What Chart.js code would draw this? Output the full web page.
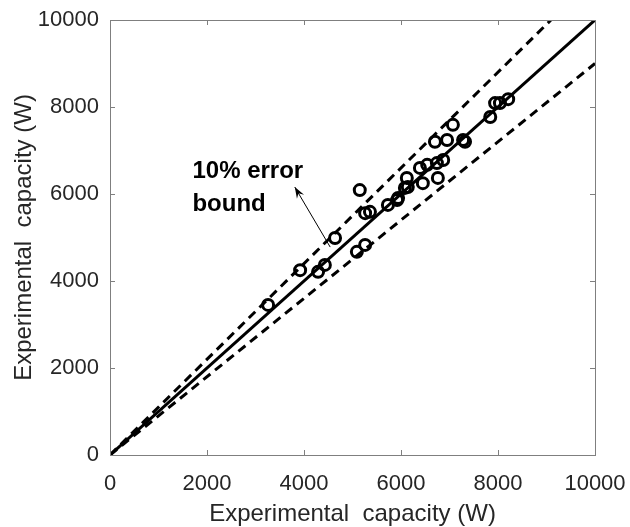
<!DOCTYPE html>
<html>
<head>
<meta charset="utf-8">
<script src="https://cdn.jsdelivr.net/npm/chart.js@4.4.1/dist/chart.umd.min.js"></script>
<style>
  html, body { margin: 0; padding: 0; background: #ffffff; }
  #wrap { width: 630px; height: 527px; }
</style>
</head>
<body>
<div id="wrap"><canvas id="grafico" width="630" height="527"></canvas></div>
<script>
// Dados (W)
const expX = [3260, 3920, 4290, 4430, 4640, 5090, 5260, 5150, 5260, 5360, 5730, 5920, 5940,
              6080, 6140, 6120, 6450, 6760, 6390, 6540, 6740, 6870, 6700, 6950, 7280, 7320,
              7070, 7840, 7940, 8040, 8210];
const expY = [3450, 4250, 4210, 4370, 4990, 4670, 4830, 6090, 5560, 5590, 5750, 5860, 5910,
              6140, 6160, 6370, 6250, 6370, 6600, 6670, 6710, 6780, 7200, 7240, 7240, 7200,
              7590, 7770, 8090, 8090, 8180];
// linha ideal y = x e limites de ±10 %
const idealX = [0, 10000];
const idealY = [0, 10000];
const upperX = [0, 9091];
const upperY = [0, 10000];
const lowerX = [0, 10000];
const lowerY = [0, 9000];
const tickValues = [0, 2000, 4000, 6000, 8000, 10000];

const toPoints = (xs, ys) => xs.map((x, i) => ({ x: x, y: ys[i] }));

const FONT = '"Liberation Sans", Arial, Helvetica, sans-serif';
const TEXT_COLOR = '#262626';
const AXIS_COLOR = '#7f7f7f';

/**
 * Desenha a caixa, os ticks internos e a anotação com a seta
 */
const boxAndNotes = {
    id: 'boxAndNotes',
    afterDraw: function(chart) {
        const ctx = chart.ctx;
        const area = chart.chartArea;
        const sx = chart.scales.x;
        const sy = chart.scales.y;
        const len = 5;

        ctx.save();
        ctx.strokeStyle = AXIS_COLOR;
        ctx.lineWidth = 1;
        ctx.strokeRect(area.left + 0.5, area.top + 0.5, area.right - area.left, area.bottom - area.top);

        // ticks para dentro, nos quatro lados
        ctx.beginPath();
        tickValues.forEach(v => {
            const px = Math.round(sx.getPixelForValue(v)) + 0.5;
            ctx.moveTo(px, area.bottom);
            ctx.lineTo(px, area.bottom - len);
            ctx.moveTo(px, area.top);
            ctx.lineTo(px, area.top + len);
            const py = Math.round(sy.getPixelForValue(v)) + 0.5;
            ctx.moveTo(area.left, py);
            ctx.lineTo(area.left + len, py);
            ctx.moveTo(area.right, py);
            ctx.lineTo(area.right - len, py);
        });
        ctx.stroke();

        // anotação
        ctx.fillStyle = '#000000';
        ctx.font = 'bold 24px ' + FONT;
        ctx.textBaseline = 'middle';
        ctx.textAlign = 'left';
        ctx.fillText('10% error', sx.getPixelForValue(1700), sy.getPixelForValue(6520));
        ctx.fillText('bound', sx.getPixelForValue(1700), sy.getPixelForValue(5770));

        // seta
        const x0 = sx.getPixelForValue(4540), y0 = sy.getPixelForValue(4780);
        const x1 = sx.getPixelForValue(3810), y1 = sy.getPixelForValue(6160);
        ctx.strokeStyle = '#000000';
        ctx.lineWidth = 1;
        ctx.beginPath();
        ctx.moveTo(x0, y0);
        ctx.lineTo(x1, y1);
        ctx.stroke();
        const ang = Math.atan2(y1 - y0, x1 - x0);
        const head = 12, spread = 0.35;
        ctx.beginPath();
        ctx.moveTo(x1, y1);
        ctx.lineTo(x1 - head * Math.cos(ang - spread), y1 - head * Math.sin(ang - spread));
        ctx.lineTo(x1 - head * 0.6 * Math.cos(ang), y1 - head * 0.6 * Math.sin(ang));
        ctx.lineTo(x1 - head * Math.cos(ang + spread), y1 - head * Math.sin(ang + spread));
        ctx.closePath();
        ctx.fill();
        ctx.restore();
    }
};

const lineSet = (xs, ys, dash) => ({
    data: toPoints(xs, ys),
    showLine: true,
    borderColor: '#000000',
    borderWidth: 3,
    borderDash: dash,
    pointRadius: 0,
    pointHoverRadius: 0,
    fill: false
});

const plainTick = value => String(value);

const config = {
    type: 'scatter',
    data: {
        datasets: [
            {
                data: toPoints(expX, expY),
                pointStyle: 'circle',
                pointRadius: 5.5,
                pointBorderWidth: 3,
                borderColor: '#000000',
                backgroundColor: 'rgba(0,0,0,0)',
                showLine: false
            },
            lineSet(idealX, idealY, []),
            lineSet(upperX, upperY, [9, 6]),
            lineSet(lowerX, lowerY, [9, 6])
        ]
    },
    options: {
        responsive: false,
        animation: false,
        layout: { padding: { left: 0, top: 20, right: 35, bottom: 0 } },
        plugins: {
            legend: { display: false },
            tooltip: { enabled: false }
        },
        scales: {
            x: {
                type: 'linear',
                min: 0,
                max: 10000,
                grid: { display: false, drawTicks: false },
                border: { display: false },
                ticks: {
                    stepSize: 2000,
                    padding: 16,
                    color: TEXT_COLOR,
                    font: { family: FONT, size: 22 },
                    maxRotation: 0,
                    callback: plainTick
                },
                title: {
                    display: true,
                    text: 'Experimental  capacity (W)',
                    color: TEXT_COLOR,
                    font: { family: FONT, size: 24, lineHeight: 1.05 },
                    padding: { top: 0, bottom: 0 }
                },
                afterFit: function(scale) {
                    scale.height = 72;
                    scale.paddingLeft = 0;
                    scale.paddingRight = 0;
                }
            },
            y: {
                type: 'linear',
                min: 0,
                max: 10000,
                grid: { display: false, drawTicks: false },
                border: { display: false },
                ticks: {
                    stepSize: 2000,
                    padding: 11,
                    color: TEXT_COLOR,
                    font: { family: FONT, size: 22 },
                    callback: plainTick
                },
                title: {
                    display: true,
                    text: 'Experimental  capacity (W)',
                    color: TEXT_COLOR,
                    font: { family: FONT, size: 24 },
                    padding: { top: 10, bottom: 0 }
                },
                afterFit: function(scale) {
                    scale.width = 110;
                    scale.paddingTop = 0;
                    scale.paddingBottom = 0;
                }
            }
        }
    },
    plugins: [boxAndNotes]
};

new Chart(document.getElementById('grafico'), config);
</script>
</body>
</html>
